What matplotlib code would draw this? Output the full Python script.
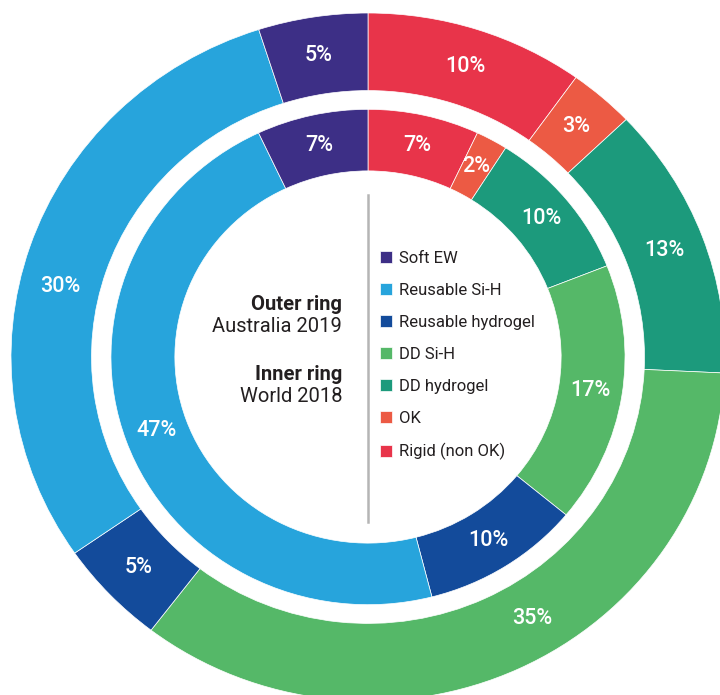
import matplotlib
matplotlib.use("Agg")
import matplotlib.pyplot as plt
import numpy as np

plt.rcParams['font.family'] = ['Roboto', 'DejaVu Sans']

categories = ["Rigid (non OK)", "OK", "DD hydrogel", "DD Si-H",
              "Reusable hydrogel", "Reusable Si-H", "Soft EW"]
outer_values = [10, 3, 13, 35, 5, 30, 5]    # Australia 2019
inner_values = [7, 2, 10, 17, 10, 47, 7]    # World 2018
colors = ["#e8344a", "#ec5a44", "#1c9a7c", "#55b868",
          "#134b9b", "#27a4dc", "#3d2f86"]
legend_order = ["Soft EW", "Reusable Si-H", "Reusable hydrogel", "DD Si-H",
                "DD hydrogel", "OK", "Rigid (non OK)"]

W, H = 720, 695
fig = plt.figure(figsize=(W / 100, H / 100), dpi=100)
ax = fig.add_axes([0, 0, 1, 1])

R_out, R_out_in = 1.0, 0.7745
R_in, R_in_in = 0.72, 0.541

wout, _ = ax.pie(outer_values, radius=R_out, startangle=90, counterclock=False,
                 colors=colors,
                 wedgeprops=dict(width=R_out - R_out_in, edgecolor="white", linewidth=0.5))
win, _ = ax.pie(inner_values, radius=R_in, startangle=90, counterclock=False,
                colors=colors,
                wedgeprops=dict(width=R_in - R_in_in, edgecolor="white", linewidth=0.5))

# horizontal stretch of the original (ellipse)
px_x, px_y = 357.0, 344.0
cx, cy = 368.0, 357.0
ax.set_aspect("auto")
ax.set_xlim(-cx / px_x, (W - cx) / px_x)
ax.set_ylim(-(H - cy) / px_y, cy / px_y)
ax.axis("off")

label_frac_outer = {3: 0.45, 5: 0.45}

def add_labels(wedges, values, r, fracs):
    for i, (w, v) in enumerate(zip(wedges, values)):
        f = fracs.get(i, 0.5)
        ang = np.deg2rad(w.theta2 - f * (w.theta2 - w.theta1))
        ax.text(r * np.cos(ang), r * np.sin(ang), f"{v}%", color="white",
                ha="center", va="center", fontsize=15.5, fontweight="medium")

add_labels(wout, outer_values, (R_out + R_out_in) / 2, label_frac_outer)
add_labels(win, inner_values, (R_in + R_in_in) / 2, {})

# vertical divider
ax.plot([0, 0], [(cy - 195) / px_y, (cy - 522) / px_y], color="#b5b5b5", lw=1.8)

# center text
tx = -(cx - 342) / px_x
txtc = "#231f20"
fs_c = 14.5
ax.text(tx, (cy - 305) / px_y, "Outer ring", ha="right", va="center",
        fontsize=fs_c, fontweight="bold", color=txtc)
ax.text(tx, (cy - 327) / px_y, "Australia 2019", ha="right", va="center",
        fontsize=fs_c, color=txtc)
ax.text(tx, (cy - 375) / px_y, "Inner ring", ha="right", va="center",
        fontsize=fs_c, fontweight="bold", color=txtc)
ax.text(tx, (cy - 397) / px_y, "World 2018", ha="right", va="center",
        fontsize=fs_c, color=txtc)

# legend
handles = [win[categories.index(c)] for c in legend_order]
leg = ax.legend(handles, legend_order, loc="upper left",
                bbox_to_anchor=(380 / W, 1 - 251 / H), bbox_transform=fig.transFigure,
                frameon=False, fontsize=12, handlelength=0.72, handleheight=0.72,
                handletextpad=0.42, labelspacing=1.02, borderpad=0, borderaxespad=0)
for t in leg.get_texts():
    t.set_color(txtc)

fig.savefig("out.png", dpi=100, facecolor="white")
